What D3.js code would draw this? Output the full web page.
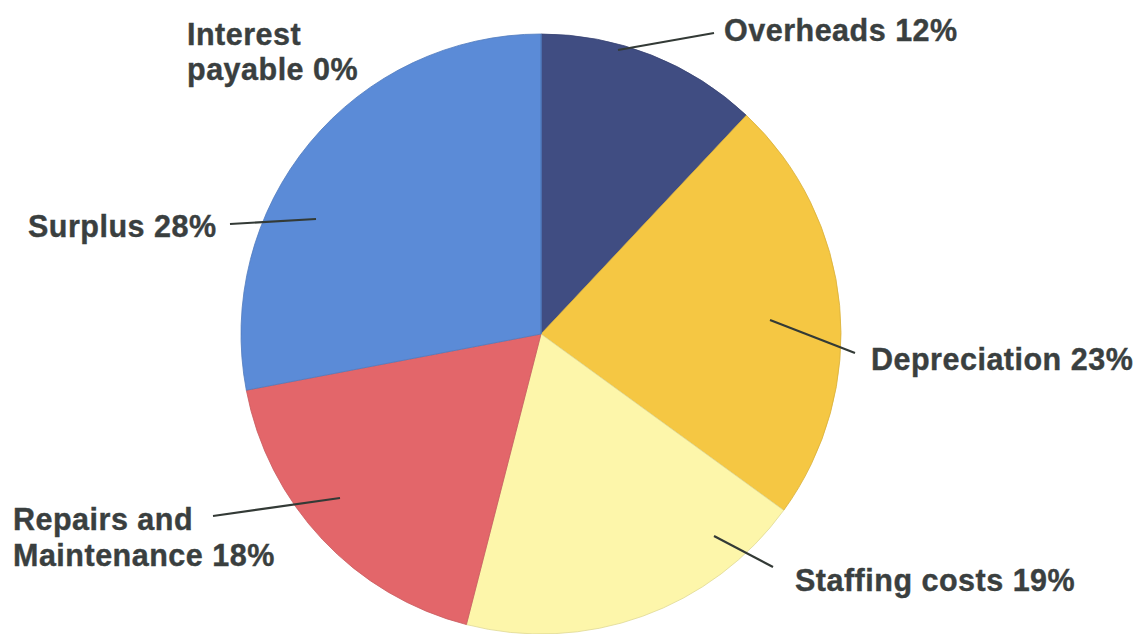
<!DOCTYPE html>
<html><head><meta charset="utf-8">
<script src="https://cdn.jsdelivr.net/npm/d3@7/dist/d3.min.js"></script>
<style>html,body{margin:0;padding:0;background:#fff;overflow:hidden}</style>
</head><body>
<svg id="c" width="1141" height="634"></svg>
<script>
const categories = ["Overheads", "Depreciation", "Staffing costs", "Repairs and Maintenance", "Surplus", "Interest payable"];
const values = [12, 23, 19, 18, 28, 0];
const colors = ["#404d82", "#f5c743", "#fdf6aa", "#e3666a", "#5b8bd7", "#5b8bd7"];
// label text lines
const labelLines = [["Overheads 12%"], ["Depreciation 23%"], ["Staffing costs 19%"], ["Repairs and", "Maintenance 18%"], ["Surplus 28%"], ["Interest", "payable 0%"]];
// label layout: text start x, first baseline y, leader line [x1,y1,x2,y2] or null
const labelLayout = [
  {x: 724, y: 41, line: [618, 50, 714, 33]},
  {x: 871, y: 370, line: [770, 320, 855, 353]},
  {x: 795, y: 591, line: [714, 536, 773, 567]},
  {x: 13, y: 530, lh: 36, line: [213, 516, 340, 498]},
  {x: 28, y: 237, line: [230, 224, 316, 219]},
  {x: 187, y: 45, lh: 35, line: null}
];

const svg = d3.select("#c");
const cx = 541, cy = 334, R = 300;
const pie = d3.pie().sort(null).value(d => d)(values);
const arc = d3.arc().innerRadius(0).outerRadius(R);
const g = svg.append("g").attr("transform", `translate(${cx},${cy})`);
g.selectAll("path").data(pie).enter().append("path")
  .attr("d", arc)
  .attr("fill", (d, i) => colors[i])
  .attr("stroke", (d, i) => d3.color(colors[i]).darker(0.35))
  .attr("stroke-width", 0.8);

labelLayout.forEach((L, i) => {
  if (L.line) {
    svg.append("line").attr("x1", L.line[0]).attr("y1", L.line[1]).attr("x2", L.line[2]).attr("y2", L.line[3])
      .attr("stroke", "#333a36").attr("stroke-width", 2.2);
  }
  const t = svg.append("text").attr("x", L.x).attr("y", L.y)
    .attr("font-family", "Liberation Sans, Arial, sans-serif").attr("font-weight", "bold")
    .attr("font-size", 30.5).attr("letter-spacing", 0.5).attr("fill", "#3a3f3f")
    .attr("stroke", "#3a3f3f").attr("stroke-width", 0.4);
  labelLines[i].forEach((s, j) => {
    t.append("tspan").attr("x", L.x).attr("dy", j === 0 ? 0 : (L.lh || 36)).text(s);
  });
});
</script>
</body></html>
